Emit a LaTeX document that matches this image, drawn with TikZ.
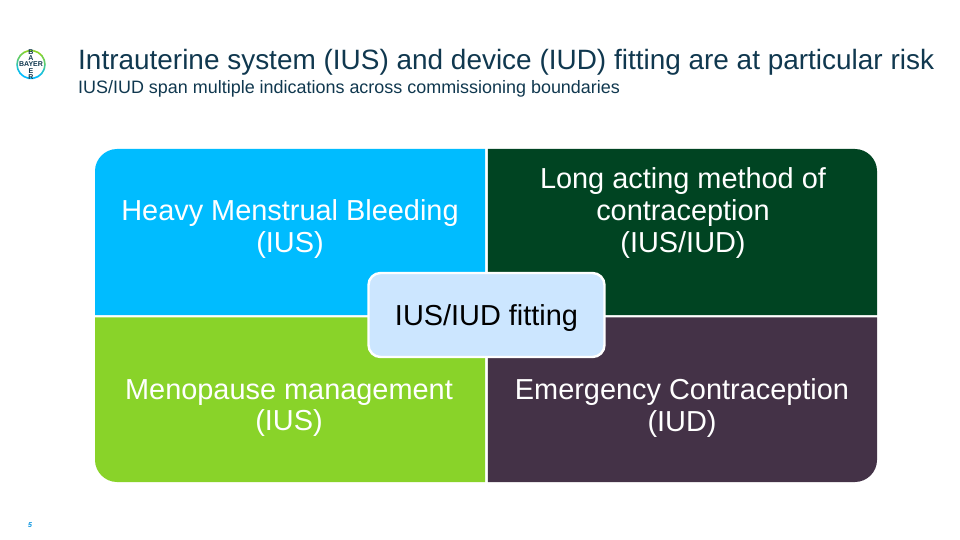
\documentclass[tikz,border=0pt]{standalone}
\usepackage{fontspec}
\setmainfont{Liberation Sans}
\definecolor{qblue}{HTML}{00BCFF}
\definecolor{qdark}{HTML}{004422}
\definecolor{qgreen}{HTML}{89D329}
\definecolor{qplum}{HTML}{443247}
\definecolor{qpale}{HTML}{CCE6FF}
\definecolor{txt}{HTML}{10384F}
\definecolor{pagenum}{HTML}{0091DF}
\tikzset{
  quadlabel/.style={align=center,text=#1,font=\fontsize{28.9}{31.6}\selectfont,inner sep=0pt},
  logotxt/.style={text=txt,align=center,font=\bfseries\fontsize{7}{6.1}\selectfont,inner sep=0pt},
  quad/.style={fill=#1,draw=none}
}
\begin{document}
\begin{tikzpicture}[x=1pt,y=-1pt]
\useasboundingbox (0,0) rectangle (960,540);
\fill[white] (0,0) rectangle (960,540);
% quadrants
\path[quad=qblue] (95,315) -- (95,171) .. controls (95,159) and (105,149) .. (117,149) -- (485.2,149) -- (485.2,315) -- cycle;
\path[quad=qdark] (487.8,149) -- (855,149) .. controls (867,149) and (877,159) .. (877,171) -- (877,315) -- (487.8,315) -- cycle;
\path[quad=qgreen] (95,317.4) -- (485.2,317.4) -- (485.2,482) -- (117,482) .. controls (105,482) and (95,472) .. (95,460) -- cycle;
\path[quad=qplum] (487.8,317.4) -- (877,317.4) -- (877,460) .. controls (877,472) and (867,482) .. (855,482) -- (487.8,482) -- cycle;
% centre
\node[draw=white,line width=2.4pt,fill=qpale,rounded corners=12pt,minimum width=236pt,minimum height=84pt,inner sep=0pt] (centre) at (486.5,315) {};
\node[quadlabel=black] (centrelabel) at (486.5,318) {IUS/IUD fitting};
% labels
\node[quadlabel=white] (hmb) at (290,229) {Heavy Menstrual Bleeding\\(IUS)};
\node[quadlabel=white] (larc) at (683,213) {Long acting method of\\contraception\\(IUS/IUD)};
\node[quadlabel=white] (meno) at (289,408) {Menopause management\\(IUS)};
\node[quadlabel=white] (emer) at (682,408) {Emergency Contraception\\(IUD)};
% headings
\node[anchor=west,inner sep=0pt,text=txt,font=\fontsize{27.95}{32}\selectfont] (title) at (78,62.5) {Intrauterine system (IUS) and device (IUD) fitting are at particular risk};
\node[anchor=west,inner sep=0pt,text=txt,font=\fontsize{17.95}{20}\selectfont] (sub) at (78,88.5) {IUS/IUD span multiple indications across commissioning boundaries};
% logo
\foreach \a/\m in {0/50,20/25,40/10,60/0,80/0,100/0,120/0,140/10,160/25,180/50,200/70,220/85,240/100,260/100,280/100,300/100,320/85,340/70}{
  \draw[qgreen!\m!qblue,line width=1.6pt] (31,64.5) ++(\a:14) arc[start angle=\a,delta angle=21,radius=14];
}
\node[logotxt] (bayerh) at (31,64.5) {BAYER};
\node[logotxt,anchor=south] (bayertop) at (31,61) {B\\A};
\node[logotxt,anchor=north] (bayerbot) at (31,68) {E\\R};
\node[text=pagenum,font=\bfseries\itshape\fontsize{7}{7}\selectfont,inner sep=0pt] (page) at (30,525) {5};
\end{tikzpicture}
\end{document}
